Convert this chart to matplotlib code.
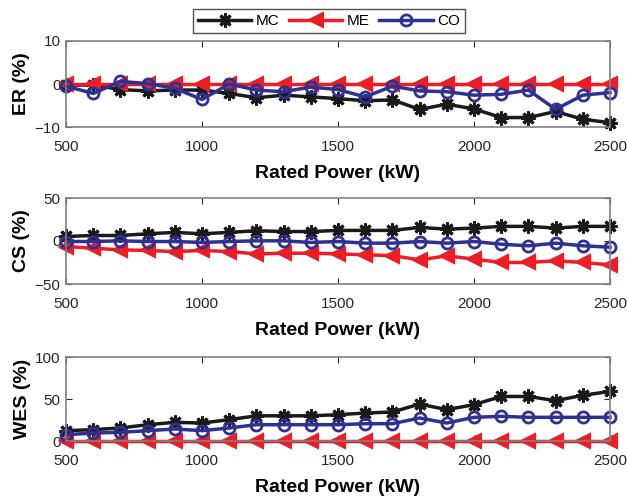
import numpy as np
import matplotlib
matplotlib.use("Agg")
import matplotlib.pyplot as plt

plt.rcParams['font.family'] = ['Liberation Sans', 'DejaVu Sans']

power = [500, 600, 700, 800, 900, 1000, 1100, 1200, 1300, 1400, 1500,
         1600, 1700, 1800, 1900, 2000, 2100, 2200, 2300, 2400, 2500]

# ER (%)
er_mc = [-0.3, -0.2, -1.3, -1.6, -1.4, -1.4, -2.2, -3.2, -2.6, -3.0, -3.4,
         -3.9, -3.7, -5.9, -4.7, -5.8, -7.8, -7.8, -6.4, -8.2, -9.0]
er_me = [0.0] * 21
er_co = [-0.5, -2.2, 0.6, 0.1, -1.0, -3.6, 0.0, -1.4, -1.8, -0.7, -1.3,
         -3.0, -0.5, -1.6, -1.8, -2.6, -2.4, -1.4, -5.9, -2.6, -2.0]

# CS (%)
cs_mc = [5.3, 6.4, 6.4, 8.4, 10, 8.4, 10, 12, 11, 11, 12.3,
         12.3, 12.3, 15.8, 13.8, 15, 17, 17, 15, 17, 17]
cs_me = [-6.4, -8.4, -10.3, -11, -12.3, -11, -12.3, -15, -14.2, -14.2, -15,
         -16, -17, -22, -17.3, -21, -25, -25, -23, -25, -27.8]
cs_co = [-0.6, -0.6, 0.2, -0.6, -0.6, -1.7, -0.6, 0.2, 0.2, -1.7, -0.6,
         -2.5, -2.5, -0.6, -2.5, -0.6, -3.7, -5.6, -2.5, -5.6, -7.2]

# WES (%)
wes_mc = [12.3, 13.5, 15.5, 19.4, 22.2, 21.4, 25.4, 30, 30, 30, 31.3,
          33.3, 34.5, 44, 37.3, 43.3, 53, 53, 48, 54.4, 59]
wes_me = [0.0] * 21
wes_co = [7.5, 9.5, 10.3, 12.3, 14.3, 12.3, 15.5, 19.4, 19.4, 19.4, 19.4,
          20.6, 20.6, 27.4, 21.4, 28.2, 29.4, 28.2, 28.2, 28.2, 28.2]

panels = [
    ("ER (%)", er_mc, er_me, er_co, (-10, 10), [-10, 0, 10]),
    ("CS (%)", cs_mc, cs_me, cs_co, (-50, 50), [-50, 0, 50]),
    ("WES (%)", wes_mc, wes_me, wes_co, (0, 100), [0, 50, 100]),
]

black = '#1a1a1a'
red = '#ee1c25'
blue = '#2e3192'

fig = plt.figure(figsize=(6.27, 4.98), dpi=100)
W, H = 627, 498
boxes = [(41, 127), (198, 284), (357, 441)]
x0, x1 = 66, 610

handles = None
for (top, bot), (lab, mc, me, co, ylim, yt) in zip(boxes, panels):
    ax = fig.add_axes([x0 / W, 1 - bot / H, (x1 - x0) / W, (bot - top) / H])
    h1, = ax.plot(power, mc, color=black, lw=2.5, marker=(8, 2, 0), ms=10,
                  mew=2.2, label='MC')
    h2, = ax.plot(power, me, color=red, lw=2.5, marker='<', ms=10, mew=1.5,
                  mfc=red, label='ME')
    h3, = ax.plot(power, co, color=blue, lw=2.5, marker='o', ms=8, mew=2,
                  mfc='none', label='CO')
    handles = [h1, h2, h3]
    ax.set_xlim(500, 2500)
    ax.set_ylim(*ylim)
    ax.set_yticks(yt)
    ax.set_xticks([500, 1000, 1500, 2000, 2500])
    ax.tick_params(direction='in', labelsize=11, colors='#262626',
                   length=4, top=True, right=True, labeltop=False,
                   labelright=False)
    ax.tick_params(axis='x', pad=9)
    ax.tick_params(axis='y', pad=4)
    for s in ax.spines.values():
        s.set_color('#808080')
        s.set_linewidth(1.2)
    ax.set_xlabel('Rated Power (kW)', fontsize=14, fontweight='bold',
                  labelpad=8)
    ax.set_ylabel(lab, fontsize=14, fontweight='bold', labelpad=3)
    for c in ax.lines:
        c.set_clip_on(False)

leg = fig.legend(handles=handles, loc='center', ncol=3, frameon=True,
                 bbox_to_anchor=(329 / W, 1 - 21 / H), fontsize=11,
                 fancybox=False, edgecolor='#262626', handlelength=3.5,
                 columnspacing=0.6, handletextpad=0.3, borderpad=0.35,
                 borderaxespad=0)
leg.get_frame().set_linewidth(1.0)

fig.savefig('out.png', dpi=100)
